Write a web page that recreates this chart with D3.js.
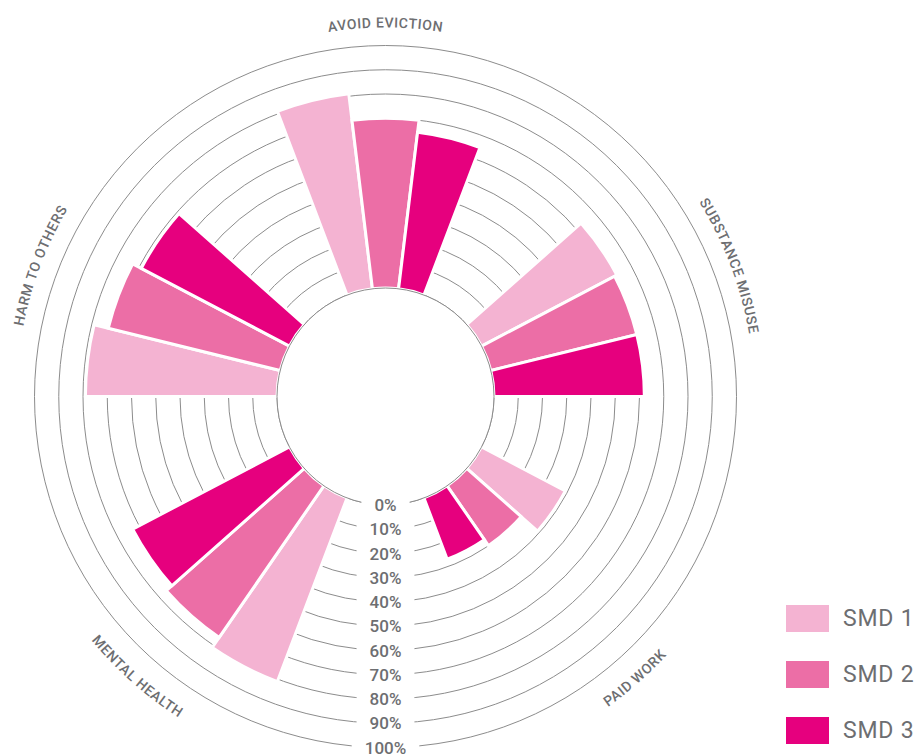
<!DOCTYPE html>
<html><head><meta charset="utf-8">
<script src="https://cdn.jsdelivr.net/npm/d3@7"></script>
<style>html,body{margin:0;padding:0;background:#fff;} svg{display:block;}</style>
</head><body>
<svg id="chart" width="919" height="756"></svg>
<script>
// ---- data ----
const categories = ["AVOID EVICTION", "SUBSTANCE MISUSE", "PAID WORK", "MENTAL HEALTH", "HARM TO OTHERS"];
const seriesNames = ["SMD 1", "SMD 2", "SMD 3"];
const smd1 = [81, 63, 39, 81, 79];
const smd2 = [70, 62, 30, 76, 73];
const smd3 = [65, 62, 27, 73, 69];
const tickValues = [0, 10, 20, 30, 40, 50, 60, 70, 80, 90, 100];
const tickLabels = ["0%", "10%", "20%", "30%", "40%", "50%", "60%", "70%", "80%", "90%", "100%"];

// ---- layout / style ----
const cx = 385.5, cy = 396.5;
const gapSlotsAfter = [2, 2, 3, 2, 2];   // empty slots after each category group
const colors = ["#f4b3d2", "#ec6ea6", "#e6007e"];
const gridColor = "#8c8c8c";
const textColor = "#6d6e71";
const fontFamily = "Roboto, 'DejaVu Sans', sans-serif";

const seriesValues = [smd1, smd2, smd3];

const svg = d3.select("#chart");
const g = svg.append("g").attr("transform", `translate(${cx},${cy})`);

const r = d3.scaleLinear().domain([0, 100]).range([108.5, 351]);
const color = d3.scaleOrdinal().domain(seriesNames).range(colors);

// angular band scale with spacer slots
const slots = [];
categories.forEach((c, i) => {
  seriesNames.forEach(s => slots.push(c + "|" + s));
  for (let k = 0; k < gapSlotsAfter[i]; k++) slots.push("gap|" + i + "|" + k);
});
const slotAngle = 2 * Math.PI / slots.length;
const a0 = -1.5 * slotAngle;
const angle = d3.scaleBand().domain(slots).range([a0, a0 + 2 * Math.PI]).paddingInner(0).paddingOuter(0);

// grid rings
g.selectAll("circle.grid").data(tickValues).join("circle")
  .attr("class", "grid")
  .attr("r", d => r(d))
  .attr("fill", "none")
  .attr("stroke", gridColor)
  .attr("stroke-width", 1);

// bars
const rows = [];
categories.forEach((c, i) => seriesNames.forEach((s, j) => rows.push({ cat: c, series: s, key: c + "|" + s, value: seriesValues[j][i] })));
const arc = d3.arc()
  .innerRadius(r(0))
  .outerRadius(d => r(d.value))
  .startAngle(d => angle(d.key))
  .endAngle(d => angle(d.key) + angle.bandwidth());
g.selectAll("path.bar").data(rows).join("path")
  .attr("class", "bar")
  .attr("d", arc)
  .attr("fill", d => color(d.series))
  .attr("stroke", "#fff")
  .attr("stroke-width", 3)
  .attr("stroke-linejoin", "miter");

// inner circle
g.append("circle").attr("r", r(0)).attr("fill", "#fff").attr("stroke", gridColor).attr("stroke-width", 1);

// tick labels along the bottom
const tl = g.append("g").attr("class", "ticklabels");
tickValues.forEach((t, i) => {
  const txt = tl.append("text")
    .attr("x", 0).attr("y", r(t))
    .attr("text-anchor", "middle")
    .attr("dominant-baseline", "central")
    .attr("font-family", fontFamily)
    .attr("font-size", 17)
    .attr("font-weight", 500)
    .attr("fill", textColor)
    .text(tickLabels[i]);
  const w = txt.node().getComputedTextLength();
  tl.insert("rect", "text")
    .attr("x", -w / 2 - 13).attr("y", r(t) - 9)
    .attr("width", w + 26).attr("height", 18)
    .attr("fill", "#fff");
});
tl.selectAll("text").raise();

// category labels along arcs
function pt(a, rad) { return [rad * Math.sin(a), -rad * Math.cos(a)]; }
categories.forEach((c, i) => {
  const mid = angle(c + "|" + seriesNames[0]) + 1.5 * angle.bandwidth();
  const m = ((mid % (2 * Math.PI)) + 2 * Math.PI) % (2 * Math.PI);
  const flip = m > Math.PI / 2 && m < 3 * Math.PI / 2;
  const span = 0.6;
  let d;
  if (!flip) {
    const R = 369;
    const p1 = pt(mid - span, R), p2 = pt(mid + span, R);
    d = `M${p1[0]},${p1[1]} A${R},${R} 0 0 1 ${p2[0]},${p2[1]}`;
  } else {
    const R = 382;
    const p1 = pt(mid + span, R), p2 = pt(mid - span, R);
    d = `M${p1[0]},${p1[1]} A${R},${R} 0 0 0 ${p2[0]},${p2[1]}`;
  }
  g.append("path").attr("id", "lab" + i).attr("d", d).attr("fill", "none");
  g.append("text")
    .attr("font-family", fontFamily)
    .attr("font-size", 14)
    .attr("font-weight", 500)
    .attr("letter-spacing", 0.6)
    .attr("fill", textColor)
    .append("textPath")
    .attr("href", "#lab" + i)
    .attr("startOffset", "50%")
    .attr("text-anchor", "middle")
    .text(c);
});

// legend
const legend = svg.append("g").attr("transform", "translate(786,605)");
seriesNames.forEach((s, i) => {
  const y = i * 56;
  legend.append("rect").attr("x", 0).attr("y", y).attr("width", 43).attr("height", 27).attr("fill", color(s));
  legend.append("text")
    .attr("x", 57).attr("y", y + 13.5)
    .attr("dominant-baseline", "central")
    .attr("font-family", fontFamily)
    .attr("font-size", 23)
    .attr("letter-spacing", 0.8)
    .attr("fill", textColor)
    .text(s);
});
</script>
</body></html>
